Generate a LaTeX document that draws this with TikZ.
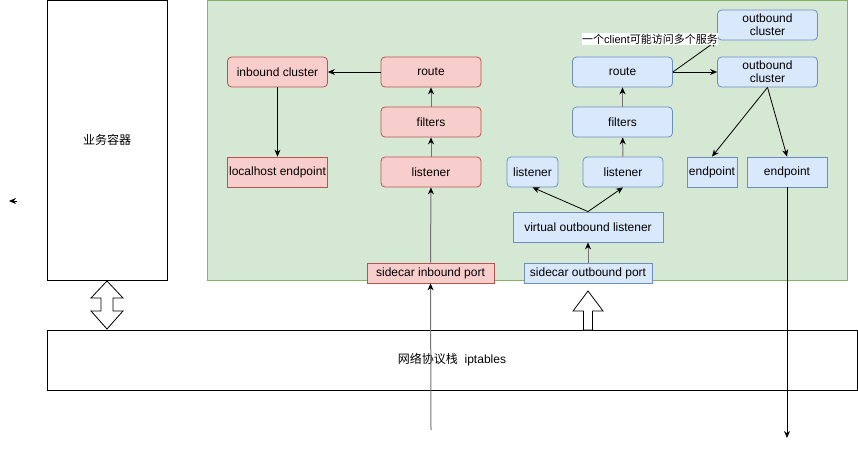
\documentclass[tikz,border=0pt]{standalone}
\usepackage{fontspec}
\usetikzlibrary{arrows.meta}
\setmainfont{Liberation Sans}
\newfontfamily\cjk{Noto Sans CJK SC}
\definecolor{redfill}{HTML}{F8CECC}
\definecolor{redline}{HTML}{B85450}
\definecolor{bluefill}{HTML}{DAE8FC}
\definecolor{blueline}{HTML}{6C8EBF}
\definecolor{greenfill}{HTML}{D5E8D4}
\definecolor{greenline}{HTML}{82B366}
\tikzset{
  box/.style={draw, inner sep=0pt, align=center, font=\fontsize{12}{13}\selectfont},
  redbox/.style={box, fill=redfill, draw=redline},
  bluebox/.style={box, fill=bluefill, draw=blueline},
  soft/.style={rounded corners=4pt},
  greyarrow/.style={-{Stealth[length=7pt,width=6pt,black]}, draw=black!55, line width=1pt},
}
\begin{document}
\begin{tikzpicture}[>={Stealth[length=7pt,width=6pt]}, x=1pt, y=-1pt, line width=0.8pt]
    \useasboundingbox (0,0) rectangle (858,449);
    \draw[fill=greenfill, draw=greenline] (207,0.5) rectangle (847,280);
    \node[box, minimum width=120pt, minimum height=280pt] (app) at (107,140) {\cjk 业务容器};
    \node[box, minimum width=810pt, minimum height=60pt] (stack) at (452,360) {{\cjk 网络协议栈}\ \ iptables};
    \node[redbox, soft, minimum width=100pt, minimum height=30pt] (incl) at (277.5,72) {inbound cluster};
    \node[redbox, minimum width=100pt, minimum height=30pt] (lhep) at (277.5,172) {localhost endpoint};
    \node[redbox, soft, minimum width=100pt, minimum height=30pt] (inroute) at (431,72) {route};
    \node[redbox, soft, minimum width=100pt, minimum height=30pt] (infilt) at (431,122) {filters};
    \node[redbox, soft, minimum width=100pt, minimum height=30pt] (inlst) at (431,172) {listener};
    \node[redbox, minimum width=127pt, minimum height=20pt] (inport) at (430.5,273) {sidecar inbound port};
    \node[bluebox, soft, minimum width=100pt, minimum height=30pt] (oclA) at (767.5,25) {outbound\\cluster};
    \node[bluebox, soft, minimum width=100pt, minimum height=30pt] (oclB) at (767.5,72) {outbound\\cluster};
    \node[bluebox, soft, minimum width=100pt, minimum height=30pt] (outroute) at (622.5,72) {route};
    \node[bluebox, soft, minimum width=100pt, minimum height=30pt] (outfilt) at (622.5,122) {filters};
    \node[bluebox, soft, minimum width=80pt, minimum height=30pt] (outlst) at (623,172) {listener};
    \node[bluebox, soft, minimum width=51pt, minimum height=30pt] (sidelst) at (532.5,172) {listener};
    \node[bluebox, minimum width=150pt, minimum height=30pt] (vlst) at (588,227) {virtual outbound listener};
    \node[bluebox, minimum width=128pt, minimum height=20pt] (outport) at (588,273) {sidecar outbound port};
    \node[bluebox, minimum width=50pt, minimum height=30pt] (epA) at (712,172) {endpoint};
    \node[bluebox, minimum width=80pt, minimum height=30pt] (epB) at (787,172) {endpoint};
    \draw[fill=white] (107,281)--(123,298)--(113,298)--(113,311)--(123,311)--(107,329)--(91,311)--(101,311)--(101,298)--(91,298)--cycle;
    \draw[fill=white] (588,291)--(603,311)--(592.5,311)--(592.5,330)--(583.5,330)--(583.5,311)--(573,311)--cycle;
    \coordinate (inbottom) at (431,430);
    \coordinate (outbottom) at (787,438);
    \coordinate (stubA) at (17,201);
    \coordinate (stubB) at (9,201);
    \draw[->] (stubA) -- (stubB);
    \draw[greyarrow] (inbottom) -- (inport);
    \draw[greyarrow] (inport) -- (inlst);
    \draw[greyarrow] (inlst) -- (infilt);
    \draw[greyarrow] (infilt) -- (inroute);
    \draw[->] (inroute) -- (incl);
    \draw[->] (incl) -- (lhep);
    \draw[greyarrow] (outport) -- (vlst);
    \draw[->] (vlst.north) -- (sidelst.south);
    \draw[->] (vlst.north) -- (outlst.south);
    \draw[greyarrow] (outlst) -- (outfilt);
    \draw[greyarrow] (outfilt) -- (outroute);
    \draw[->] (outroute.east) -- (oclB.west);
    \draw[->] (outroute.east) -- (oclA.south west);
    \draw[->] (oclB.south) -- (epA.north);
    \draw[->] (oclB.south) -- (epB.north);
    \draw[->] (epB) -- (outbottom);
    \node[fill=white, inner sep=0.5pt, font=\fontsize{11}{12}\selectfont] (note) at (650,39) {{\cjk 一个}client{\cjk 可能访问多个服务}};
\end{tikzpicture}
\end{document}
